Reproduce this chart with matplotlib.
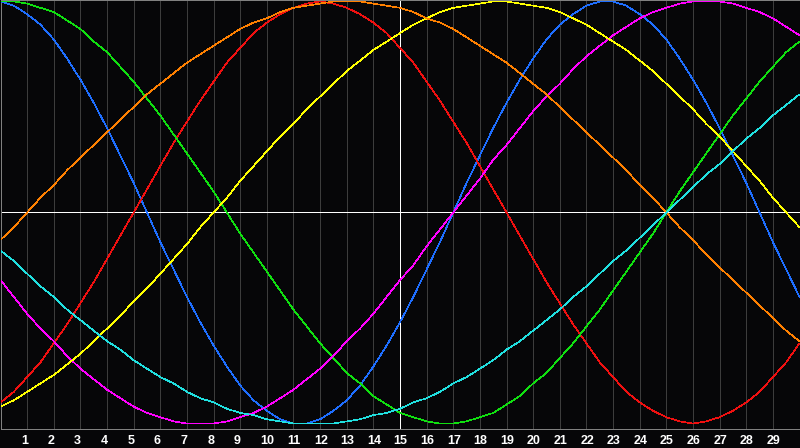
import numpy as np
import matplotlib
matplotlib.use("Agg")
import matplotlib.pyplot as plt
from matplotlib.transforms import blended_transform_factory, ScaledTranslation

# ---- data: biorhythm cycles in percent, sampled every half day (day 0 .. 30) ----
days = np.arange(0, 30.5, 0.5)
day_labels = [str(i) for i in range(1, 30)]

physical_23 = [100,98,94,89,82,73,63,52,40,27,14,0,-14,-27,-40,-52,-63,-73,-82,-89,-94,-98,-100,-100,-98,-94,-89,-82,-73,-63,-52,-40,-27,-14,0,14,27,40,52,63,73,82,89,94,98,100,100,98,94,89,82,73,63,52,40,27,14,0,-14,-27,-40]
emotional_28 = [-90,-85,-78,-71,-62,-53,-43,-33,-22,-11,0,11,22,33,43,53,62,71,78,85,90,94,97,99,100,99,97,94,90,85,78,71,62,53,43,33,22,11,0,-11,-22,-33,-43,-53,-62,-71,-78,-85,-90,-94,-97,-99,-100,-99,-97,-94,-90,-85,-78,-71,-62]
intellectual_33 = [100,100,99,97,95,91,87,81,76,69,62,54,46,37,28,19,10,0,-10,-19,-28,-37,-46,-54,-62,-69,-76,-81,-87,-91,-95,-97,-99,-100,-100,-99,-97,-95,-91,-87,-81,-76,-69,-62,-54,-46,-37,-28,-19,-10,0,10,19,28,37,46,54,62,69,76,81]
intuitive_38 = [-32,-40,-48,-55,-61,-68,-74,-79,-84,-88,-92,-95,-97,-99,-100,-100,-100,-99,-97,-95,-92,-88,-84,-79,-74,-68,-61,-55,-48,-40,-32,-25,-16,-8,0,8,16,25,32,40,48,55,61,68,74,79,84,88,92,95,97,99,100,100,100,99,97,95,92,88,84]
aesthetic_43 = [-92,-89,-85,-81,-77,-72,-67,-61,-55,-49,-42,-36,-29,-22,-15,-7,0,7,15,22,29,36,42,49,55,61,67,72,77,81,85,89,92,95,97,98,99,100,100,99,98,97,95,92,89,85,81,77,72,67,61,55,49,42,36,29,22,15,7,0,-7]
awareness_48 = [-13,-7,0,7,13,20,26,32,38,44,50,56,61,66,71,75,79,83,87,90,92,95,97,98,99,100,100,100,99,98,97,95,92,90,87,83,79,75,71,66,61,56,50,44,38,32,26,20,13,7,0,-7,-13,-20,-26,-32,-38,-44,-50,-56,-61]
spiritual_53 = [-18,-23,-29,-35,-40,-46,-51,-56,-61,-65,-70,-74,-78,-81,-85,-88,-90,-93,-95,-96,-98,-99,-100,-100,-100,-100,-99,-98,-96,-95,-93,-90,-88,-85,-81,-78,-74,-70,-65,-61,-56,-51,-46,-40,-35,-29,-23,-18,-12,-6,0,6,12,18,23,29,35,40,46,51,56]

series = [physical_23, emotional_28, intellectual_33, intuitive_38,
          aesthetic_43, awareness_48, spiritual_53]
colors = ["#1e6eff", "#f01010", "#10e010", "#ff00ff", "#ffff00", "#ff8000", "#20e0e0"]

# ---- figure ----
W, H = 800, 448
BG = "#060608"
fig = plt.figure(figsize=(W / 100, H / 100), dpi=100, facecolor=BG)
ax = fig.add_axes([0.5 / W, (H - 428.5) / H, 799 / W, 428 / H])
ax.set_facecolor(BG)
ax.set_xlim(0, 30)
ax.set_ylim(-102.37, 100.47)

for x in range(1, 30):
    ax.axvline(x, color="#3c3c3c", lw=0.6, antialiased=False, zorder=1)
ax.axvline(15, color="white", lw=0.6, antialiased=False, zorder=2)
ax.axhline(0, color="white", lw=0.6, antialiased=False, zorder=2)

for s, c in zip(series, colors):
    ax.plot(days[:len(s)], s, color=c, lw=0.45, antialiased=False, zorder=3,
            solid_joinstyle="miter", solid_capstyle="butt")

for sp in ax.spines.values():
    sp.set_color("#808080")
    sp.set_linewidth(0.72)
ax.set_xticks([])
ax.set_yticks([])

tr = blended_transform_factory(ax.transData, fig.transFigure) + \
    ScaledTranslation(-6.3 / 100, 0, fig.dpi_scale_trans)
for i, lab in enumerate(day_labels, start=1):
    ax.text(i, (H - 443.5) / H, lab, transform=tr, ha="left", va="baseline",
            color="white", fontsize=9, fontweight="bold", family="Liberation Sans")

fig.savefig("out.png", dpi=100, facecolor=BG)
